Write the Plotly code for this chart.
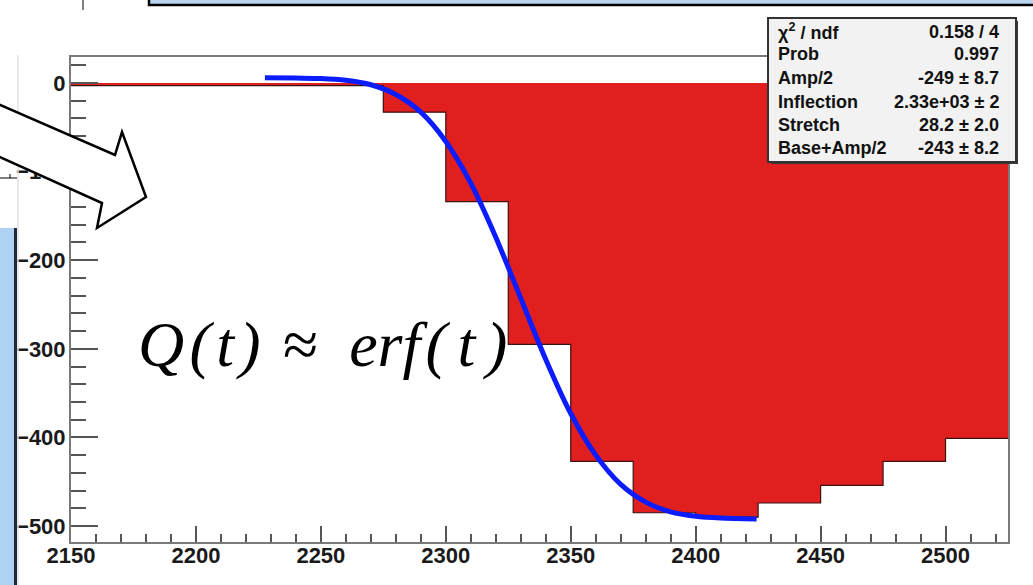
import plotly.graph_objects as go

# ---------------- data ----------------
bin_left = [2150, 2175, 2200, 2225, 2250, 2275, 2300, 2325, 2350, 2375, 2400, 2425, 2450, 2475, 2500]
bin_width = 25
counts = [-3, -3, -3, -3, -3, -33, -134, -295, -427, -485, -490, -474, -454, -427, -401]

# fitted curve
curve_x = [2227.6, 2240, 2250, 2260, 2270, 2280, 2290, 2300, 2310, 2320, 2330,
           2340, 2350, 2360, 2370, 2380, 2390, 2400, 2410, 2424.4]
curve_y = [6, 5.5, 5, 3, -2, -13, -33, -66, -113, -174, -243,
           -312, -373, -420, -453, -473, -484, -489, -491, -492]

stat_names = ["χ<sup>2</sup> / ndf", "Prob", "Amp/2", "Inflection", "Stretch", "Base+Amp/2"]
stat_values = ["0.158 / 4", "0.997", "-249 ± 8.7", "2.33e+03 ± 2", "28.2 ± 2.0", "-243 ± 8.2"]

x_range = [2150, 2525]
y_range = [-518, 29.3]

# ---------------- layout geometry (pixels) ----------------
W, H = 1033, 585
PL, PR, PT, PB = 71, 1008, 57, 542


def px(x):
    return (x - PL) / (PR - PL)


def py(y):
    return (PB - y) / (PB - PT)


edges = bin_left + [bin_left[-1] + bin_width]
step_y = counts + [counts[-1]]

fig = go.Figure()
fig.add_trace(go.Scatter(
    x=edges, y=step_y, mode="lines", line_shape="hv",
    line=dict(color="#3a1212", width=1.2),
    fill="tozeroy", fillcolor="#e21f1f", hoverinfo="skip",
))
fig.add_trace(go.Scatter(
    x=curve_x, y=curve_y, mode="lines",
    line=dict(color="#0b1cff", width=5, shape="spline", smoothing=0.8),
    hoverinfo="skip",
))

axis_font = dict(family="Liberation Sans", size=22, color="#1a1a1a", weight="bold")
fig.update_xaxes(
    range=x_range, showgrid=False, zeroline=False,
    showline=True, linecolor="#7a7a7a", linewidth=2, mirror=True,
    ticks="inside", ticklen=16, tickwidth=1.5, tickcolor="#555555",
    tick0=2150, dtick=50, tickfont=axis_font, ticklabelstandoff=-7,
    minor=dict(ticks="inside", ticklen=8, tickwidth=1.5, tickcolor="#555555", dtick=10, tick0=2150, showgrid=False),
)
fig.update_yaxes(
    range=y_range, showgrid=False, zeroline=False,
    showline=True, linecolor="#7a7a7a", linewidth=2, mirror=True,
    ticks="inside", ticklen=27, tickwidth=1.5, tickcolor="#555555",
    tick0=0, dtick=100, tickfont=axis_font, ticklabelstandoff=-1,
    minor=dict(ticks="inside", ticklen=15, tickwidth=1.5, tickcolor="#555555", dtick=20, tick0=0, showgrid=False),
)

shapes = []
# stats box (shadow + box)
shapes.append(dict(type="rect", xref="paper", yref="paper", layer="above",
                   x0=px(771), x1=px(1018), y0=py(164), y1=py(21),
                   fillcolor="#3a3a3a", line=dict(width=0)))
shapes.append(dict(type="rect", xref="paper", yref="paper", layer="above",
                   x0=px(768), x1=px(1016), y0=py(162), y1=py(18),
                   fillcolor="#f2f2f2", line=dict(color="#333333", width=2)))
# top slide strip
shapes.append(dict(type="rect", xref="paper", yref="paper", layer="above",
                   x0=px(149), x1=px(1045), y0=py(5), y1=py(-10),
                   fillcolor="#b8d4ef", line=dict(color="#000000", width=2.5)))
shapes.append(dict(type="line", xref="paper", yref="paper", layer="above",
                   x0=px(83), x1=px(83), y0=py(0), y1=py(10),
                   line=dict(color="#000000", width=1)))
# left slide elements
shapes.append(dict(type="line", xref="paper", yref="paper", layer="above",
                   x0=px(18), x1=px(18), y0=py(55), y1=py(585),
                   line=dict(color="#e2e2e2", width=1.5)))
shapes.append(dict(type="line", xref="paper", yref="paper", layer="above",
                   x0=px(0), x1=px(17), y0=py(178), y1=py(178),
                   line=dict(color="#000000", width=1)))
shapes.append(dict(type="line", xref="paper", yref="paper", layer="above",
                   x0=px(10), x1=px(10), y0=py(174), y1=py(178),
                   line=dict(color="#000000", width=1)))
shapes.append(dict(type="rect", xref="paper", yref="paper", layer="above",
                   x0=px(-5), x1=px(15), y0=py(590), y1=py(228),
                   fillcolor="#afd2f2", line=dict(width=0)))
shapes.append(dict(type="line", xref="paper", yref="paper", layer="above",
                   x0=px(15.5), x1=px(15.5), y0=py(228), y1=py(590),
                   line=dict(color="#1e2a3a", width=3)))
# hollow block arrow
pts = [(-10, 100.6), (115, 155), (122, 132), (146, 197), (97, 228), (102, 203), (-10, 152.5)]
path = "M " + " L ".join(f"{px(a):.5f},{py(b):.5f}" for a, b in pts) + " Z"
shapes.append(dict(type="path", xref="paper", yref="paper", layer="above", path=path,
                   fillcolor="#ffffff", line=dict(color="#000000", width=2.5)))

annotations = []
row_y = [32, 54, 78, 102, 125, 148]
stat_font = dict(family="Liberation Sans", size=18, color="#111111", weight="bold")
for name, val, yy in zip(stat_names, stat_values, row_y):
    annotations.append(dict(xref="paper", yref="paper", x=px(776), y=py(yy), text=name,
                            xanchor="left", yanchor="middle", showarrow=False, font=stat_font))
    annotations.append(dict(xref="paper", yref="paper", x=px(1001), y=py(yy), text=val,
                            xanchor="right", yanchor="middle", showarrow=False, font=stat_font))

annotations.append(dict(xref="paper", yref="paper", x=px(136), y=py(344),
                        text="Q\u200a(\u200at\u200a)\u2004≈\u2002erf\u200a(\u200a\u200at\u200a\u200a)",
                        xanchor="left", yanchor="middle", showarrow=False,
                        font=dict(family="Liberation Serif", size=64, color="#000000", style="italic")))

fig.update_layout(
    width=W, height=H,
    margin=dict(l=PL, r=W - PR, t=PT, b=H - PB),
    paper_bgcolor="#ffffff", plot_bgcolor="#ffffff",
    showlegend=False, shapes=shapes, annotations=annotations,
)

fig.write_html("out.html")
